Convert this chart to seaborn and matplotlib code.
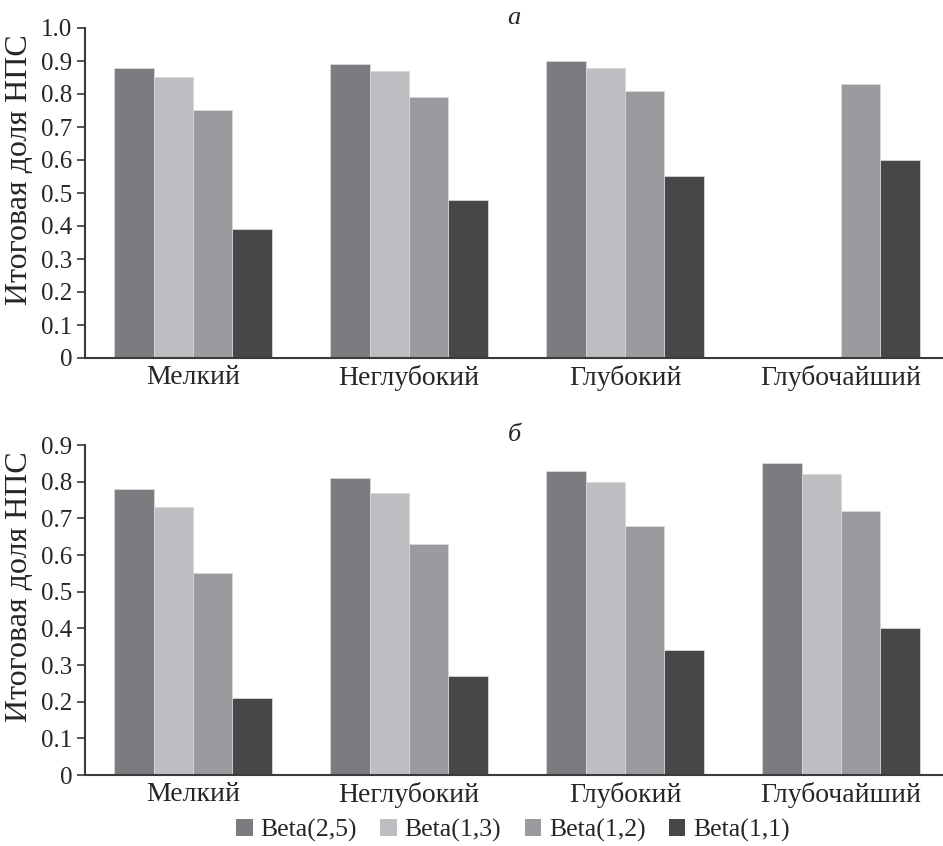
import numpy as np
import pandas as pd
import matplotlib
matplotlib.use("Agg")
import matplotlib.pyplot as plt
import seaborn as sns
from matplotlib.patches import Patch

# Depth categories and distribution series
categories = ["Мелкий", "Неглубокий", "Глубокий", "Глубочайший"]
series = ["Beta(2,5)", "Beta(1,3)", "Beta(1,2)", "Beta(1,1)"]
colors = ["#7b7c80", "#bdbec2", "#9a9b9f", "#464749"]

# Panel а: final share per series (rows follow `series`)
panel_a = [
    [0.88, 0.89, 0.90, np.nan],
    [0.85, 0.87, 0.88, np.nan],
    [0.75, 0.79, 0.81, 0.83],
    [0.39, 0.48, 0.55, 0.60],
]
# Panel б
panel_b = [
    [0.78, 0.81, 0.83, 0.85],
    [0.73, 0.77, 0.80, 0.82],
    [0.55, 0.63, 0.68, 0.72],
    [0.21, 0.27, 0.34, 0.40],
]

ylabel = "Итоговая доля НПС"
ticks_a = ["0", "0.1", "0.2", "0.3", "0.4", "0.5", "0.6", "0.7", "0.8", "0.9", "1.0"]
ticks_b = ["0", "0.1", "0.2", "0.3", "0.4", "0.5", "0.6", "0.7", "0.8", "0.9"]


def to_long(values):
    rows = []
    for s, vals in zip(series, values):
        for c, v in zip(categories, vals):
            rows.append({"category": c, "series": s, "value": v})
    return pd.DataFrame(rows)


sns.set_theme(style="white")
plt.rcParams["font.family"] = "serif"
plt.rcParams["font.serif"] = ["Liberation Serif", "Times New Roman", "DejaVu Serif"]
plt.rcParams["axes.edgecolor"] = "#3a3a3a"

fig = plt.figure(figsize=(9.43, 8.46), dpi=100)
W, H = 943, 846
left = 85 / W
width = 1.0 - left


def draw(ax, values, ticklabels, title):
    df = to_long(values)
    sns.barplot(data=df, x="category", y="value", hue="series",
                order=categories, hue_order=series, palette=colors,
                width=0.73, gap=0, saturation=1, errorbar=None,
                edgecolor="#d8d8d8", linewidth=0.6, ax=ax, legend=False)
    n = len(ticklabels)
    ax.set_ylim(0, (n - 1) / 10)
    ax.set_yticks([i / 10 for i in range(n)])
    ax.set_yticklabels(ticklabels, fontsize=18)
    ax.set_xlim(-0.5, -0.5 + 858 / 216)
    ax.set_xlabel("")
    ax.set_ylabel(ylabel, fontsize=23)
    ax.yaxis.set_label_coords(-0.06, 0.57)
    ax.tick_params(axis="x", labelsize=20, length=0, pad=5)
    ax.tick_params(axis="y", length=6, width=1.2, direction="out",
                   color="#3a3a3a", pad=3, left=True)
    for sp in ["top", "right"]:
        ax.spines[sp].set_visible(False)
    for sp in ["left", "bottom"]:
        ax.spines[sp].set_linewidth(1.5)
    ax.set_title(title, fontsize=19, style="italic", pad=3)


ax1 = fig.add_axes([left, (H - 358) / H, width, 330 / H])
draw(ax1, panel_a, ticks_a, "а")
ax2 = fig.add_axes([left, (H - 775) / H, width, 330 / H])
draw(ax2, panel_b, ticks_b, "б")

handles = [Patch(facecolor=c, edgecolor="none") for c in colors]
fig.legend(handles, series, loc="center", bbox_to_anchor=(513 / W, 1 - 830 / H),
           ncol=4, frameon=False, fontsize=18.5, handlelength=0.65,
           handleheight=0.65, handletextpad=0.3, columnspacing=0.9,
           borderaxespad=0)

fig.savefig("out.png", dpi=100, facecolor="white")
